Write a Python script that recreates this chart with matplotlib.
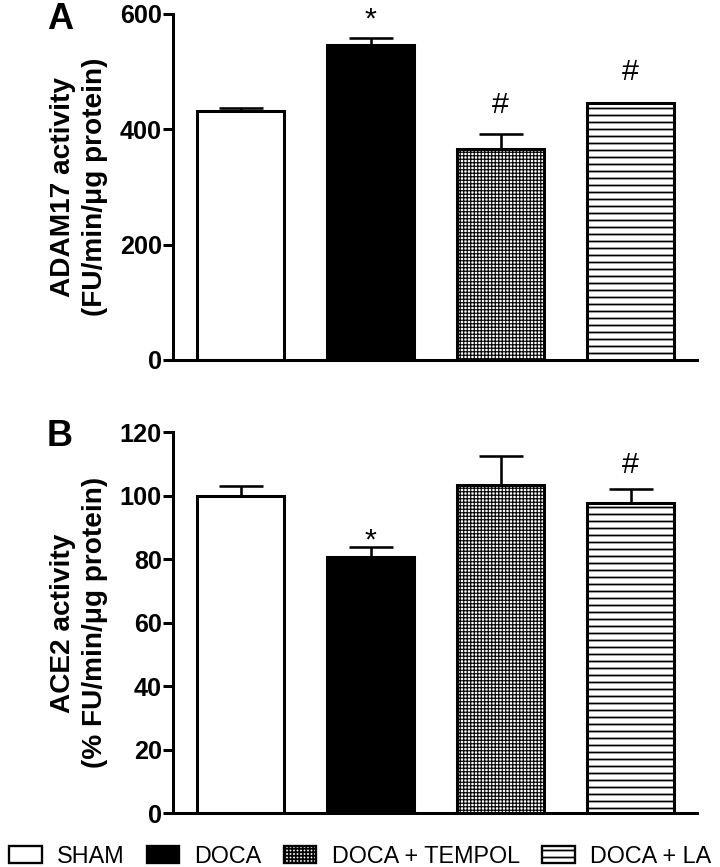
import numpy as np
import matplotlib
matplotlib.use("Agg")
import matplotlib.pyplot as plt
from matplotlib.patches import Patch

# groups and values
groups = ["SHAM", "DOCA", "DOCA + TEMPOL", "DOCA + LA"]
adam17_mean = [432, 547, 366, 445]
adam17_sem = [5, 12, 26, 1]
ace2_mean = [100, 80.9, 103.5, 97.9]
ace2_sem = [3.2, 2.9, 9.1, 4.3]
adam17_marks = ["", "*", "#", "#"]
ace2_marks = ["", "*", "", "#"]

DPI = 84
plt.rcParams['font.family'] = ['Liberation Sans', 'DejaVu Sans']
plt.rcParams['hatch.linewidth'] = 1.5

fig = plt.figure(figsize=(720 / DPI, 867 / DPI), dpi=DPI)
ax_a = fig.add_axes([0.2403, 0.5848, 0.7277, 0.3991])
ax_b = fig.add_axes([0.2403, 0.0619, 0.7277, 0.4393])

faces = ["white", "black", "white", "white"]
hatches = [None, None, "++++", "--"]
hatch_lw = [1.5, 1.5, 1.0, 1.5]
x = np.arange(len(groups))
width = 0.67


def draw_panel(ax, mean, sem, marks, mark_y, ymax, step, ylabel):
    bars = ax.bar(x, mean, width=width, color=faces, edgecolor="black",
                  linewidth=2.6, zorder=2)
    for b, h, lw in zip(bars, hatches, hatch_lw):
        if h:
            b.set_hatch(h)
            if hasattr(b, "set_hatch_linewidth"):
                b.set_hatch_linewidth(lw)
    ax.errorbar(x, mean, yerr=[np.zeros(len(mean)), sem], fmt="none",
                ecolor="black", elinewidth=2.2, capsize=19, capthick=2.2,
                zorder=3)
    # significance marks above the bars
    for xi, m, yy in zip(x, marks, mark_y):
        if m:
            ax.text(xi, yy, m, ha="center", va="baseline", fontsize=26,
                    clip_on=False)
    ax.set_xlim(-0.52, 3.51)
    ax.set_ylim(0, ymax)
    ax.set_yticks(np.arange(0, ymax + 1, step))
    ax.set_xticks([])
    for s in ["top", "right"]:
        ax.spines[s].set_visible(False)
    for s in ["left", "bottom"]:
        ax.spines[s].set_linewidth(2.6)
    ax.tick_params(axis="y", length=8.6, width=2.6, pad=1, labelsize=21.5)
    for t in ax.get_yticklabels():
        t.set_fontweight("bold")
    ax.set_ylabel(ylabel, fontsize=24, fontweight="bold", linespacing=1.3)
    ax.yaxis.set_label_coords(-0.124, 0.5)


draw_panel(ax_a, adam17_mean, adam17_sem, adam17_marks, [0, 577, 428, 485],
           600, 200, "ADAM17 activity\n(FU/min/\u03bcg protein)")
draw_panel(ax_b, ace2_mean, ace2_sem, ace2_marks, [0, 83.3, 0, 107.3],
           120, 20, "ACE2 activity\n(% FU/min/\u03bcg protein)")

fig.text(60 / 720, 1 - 2 / 867, "A", fontsize=31, fontweight="bold",
         ha="center", va="top")
fig.text(60 / 720, 1 - 419 / 867, "B", fontsize=31, fontweight="bold",
         ha="center", va="top")

handles = []
for f, h, lw in zip(faces, hatches, hatch_lw):
    p = Patch(facecolor=f, edgecolor="black", hatch=h, linewidth=2.0)
    if h and hasattr(p, "set_hatch_linewidth"):
        p.set_hatch_linewidth(lw)
    handles.append(p)
fig.legend(handles, groups, loc="lower center", bbox_to_anchor=(0.5, -0.017),
           ncol=4, frameon=False, handlelength=1.4, handleheight=0.75,
           handletextpad=0.65, columnspacing=0.95, borderpad=0.1,
           prop={"size": 20})

fig.savefig("out.png", dpi=DPI)
